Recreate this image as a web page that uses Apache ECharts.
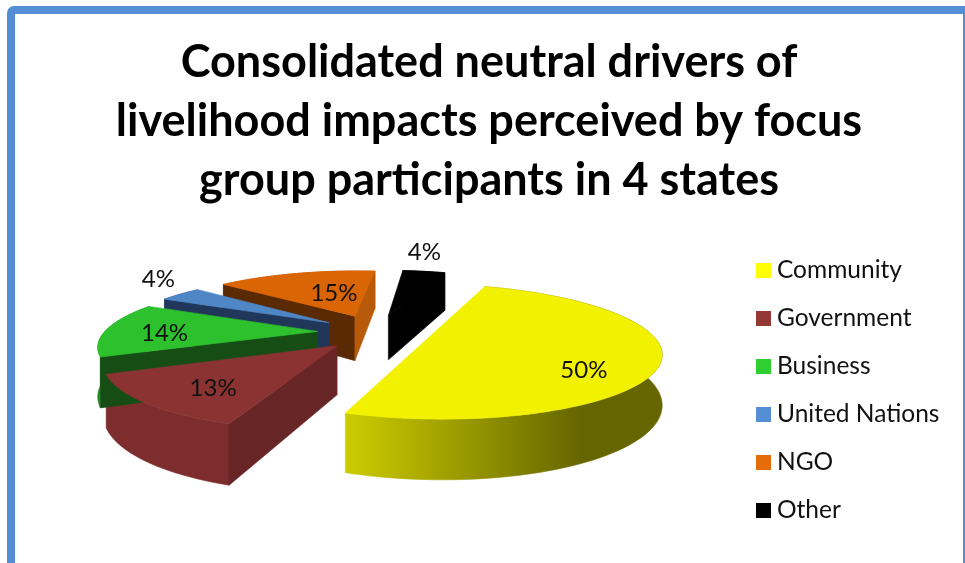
<!DOCTYPE html>
<html><head><meta charset="utf-8">
<style>html,body{margin:0;padding:0;background:#fff}#c{width:965px;height:563px}</style>
<script src="https://cdn.jsdelivr.net/npm/echarts@6/dist/echarts.min.js"></script>
</head><body><div id="c"></div>
<script>
// data
const titleLines = ["Consolidated neutral drivers of", "livelihood impacts perceived by focus", "group participants in 4 states"];
const categories = ["Community", "Government", "Business", "United Nations", "NGO", "Other"];
const shares = [50, 13, 14, 4, 15, 4];
const percentLabels = ["50%", "13%", "14%", "4%", "15%", "4%"];
// colours
const legendColors = ["#ffff00", "#953735", "#2fcf2f", "#558ed5", "#e46c0a", "#000000"];
const topColors = ["#f2f200", "#8b3233", "#2dc22d", "#4f86c6", "#da6505", "#000000"];
const startFaceColors = ["#666600", "#682526", "#154d15", "#21375a", "#5a2a05", "#000000"];
const endFaceColors = ["#666600", "#682526", "#154d15", "#21375a", "#b85a0a", "#000000"];
const wallNear = ["#cccc00", "#7d2d2e", "#1f8f1f", "#2d5a96", "#b85a0a", "#000000"];
const wallFar = ["#666600", "#762b2c", "#1f8f1f", "#2d5a96", "#b85a0a", "#000000"];
// 3D pie layout
const firstAngle = 20;
const explode = [0.25, 0.30, 0.28, 0.28, 0.30, 0.30];
const radiusScale = [1.04, 1.015, 1, 1, 1, 1];
const view = {x0: 380, y0: 332, rx: 213, ry: 60, k: 0.2, h: 47};
const nudge = [[-2, 0], [3, 0], [-3, 0], [-3, 0], [-3, 0], [-5, 0]];
const labelOffsets = [[155, 33], [-124, 43], [-153, 2], [-171, -44], [-21, -23], [36, -63]];
const drawOrder = [5, 4, 3, 2, 1, 0];

const rad = d => d * Math.PI / 180;
const dir = a => [Math.sin(rad(a)), -Math.cos(rad(a))];
const total = shares.reduce((a, b) => a + b, 0);
const ranges = [];
shares.reduce((acc, s, i) => { ranges[i] = [acc, acc + s / total * 360]; return acc + s / total * 360; }, firstAngle);

function poly(points, fill, z2) {
  return {type: 'polygon', shape: {points}, silent: true, z2: z2,
    style: {fill: fill, stroke: fill, lineWidth: 0.6}};
}
function sliceRenderer(i) {
  const project = (u, v, z) => {
    const s = 1 / (1 - view.k * v);
    return [view.x0 + view.rx * u * s + nudge[i][0], view.y0 + view.ry * v * s + view.h * z * s + nudge[i][1]];
  };
  return function () {
    const [a0, a1] = ranges[i];
    const m = dir((a0 + a1) / 2);
    const c = [m[0] * explode[i], m[1] * explode[i]];
    const pts = [];
    const n = Math.max(4, Math.ceil((a1 - a0) / 2));
    for (let j = 0; j <= n; j++) {
      const d = dir(a0 + (a1 - a0) * j / n);
      pts.push([c[0] + d[0] * radiusScale[i], c[1] + d[1] * radiusScale[i]]);
    }
    const quad = (p, q) => [project(p[0], p[1], 0), project(q[0], q[1], 0), project(q[0], q[1], 1), project(p[0], p[1], 1)];
    const apex = project(c[0], c[1], 0);
    const rim = pts.map(p => project(p[0], p[1], 0)).concat(pts.slice().reverse().map(p => project(p[0], p[1], 1)));
    const wallFill = new echarts.graphic.LinearGradient(347, 0, 580, 0,
      [{offset: 0, color: wallNear[i]}, {offset: 1, color: wallFar[i]}], true);
    const children = [poly(rim, wallFill, 1)];
    // a cut face shows only when it turns toward the viewer
    if (project(pts[0][0], pts[0][1], 0)[0] < apex[0]) children.push(poly(quad(c, pts[0]), startFaceColors[i], 2));
    if (project(pts[n][0], pts[n][1], 0)[0] > apex[0]) children.push(poly(quad(c, pts[n]), endFaceColors[i], 2));
    children.push(poly([apex].concat(pts.map(p => project(p[0], p[1], 0))), topColors[i], 500));
    children.push({type: 'text', silent: true, z2: 600,
      style: {text: percentLabels[i], x: apex[0] + labelOffsets[i][0], y: apex[1] + labelOffsets[i][1],
        align: 'center', verticalAlign: 'middle', fill: '#111', font: '24px Lato'}});
    return {type: 'group', children};
  };
}
const series = drawOrder.map(i => ({
  type: 'custom', name: categories[i], coordinateSystem: 'none', data: [[shares[i]]],
  renderItem: sliceRenderer(i), itemStyle: {color: legendColors[i]}, animation: false, silent: true, z: 2
}));
const chart = echarts.init(document.getElementById('c'), null, {renderer: 'canvas'});
chart.setOption({
  animation: false,
  backgroundColor: '#fff',
  graphic: [{type: 'rect', z: 0, silent: true, shape: {x: 11, y: 10, width: 956, height: 580, r: 3},
    style: {fill: 'none', stroke: '#558ed5', lineWidth: 8}}],
  title: {text: titleLines.join('\n'), left: 489, top: 33, padding: 0, textAlign: 'center',
    textStyle: {fontFamily: 'Lato', fontWeight: 'bold', fontSize: 45, lineHeight: 59, color: '#000'}},
  legend: {orient: 'vertical', left: 756, top: 258, padding: 0, icon: 'rect', itemWidth: 15, itemHeight: 15, itemGap: 23,
    selectedMode: false, data: categories,
    textStyle: {fontFamily: 'Lato', fontSize: 24.5, lineHeight: 24, color: '#111', padding: [0, 0, 0, 1]}},
  series
});
</script></body></html>
